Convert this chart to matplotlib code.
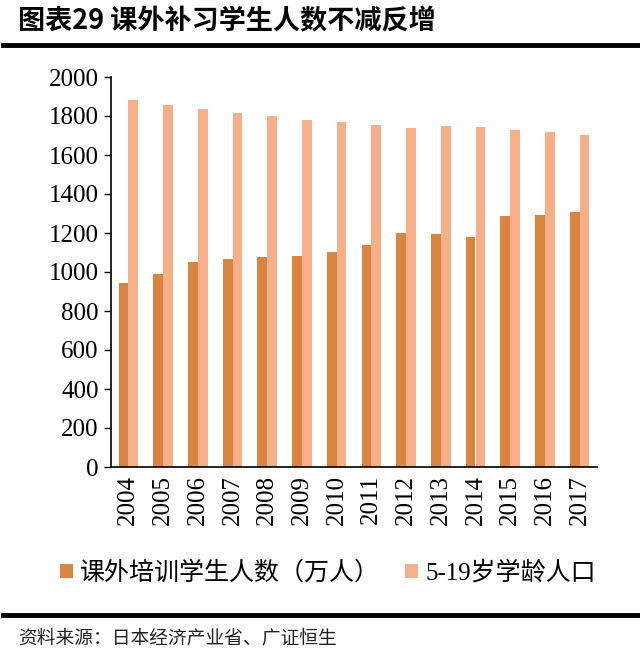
import matplotlib

matplotlib.use("Agg")
import matplotlib.pyplot as plt
import numpy as np
from matplotlib.lines import Line2D

plt.rcParams["font.family"] = ["Liberation Serif", "Noto Sans CJK SC", "DejaVu Sans"]

YEARS = ["2004", "2005", "2006", "2007", "2008", "2009", "2010",
         "2011", "2012", "2013", "2014", "2015", "2016", "2017"]
# 课外培训学生人数（万人）
TUTORING = [945, 988, 1051, 1065, 1077, 1082, 1103,
            1140, 1202, 1197, 1180, 1286, 1294, 1308]
# 5-19岁学龄人口
POPULATION = [1880, 1854, 1834, 1817, 1798, 1781, 1769,
              1756, 1740, 1747, 1744, 1730, 1720, 1705]

DARK = "#D9843F"
LIGHT = "#F5B08A"
CJK = ["Noto Sans CJK SC", "DejaVu Sans"]

fig = plt.figure(figsize=(6.4, 6.61), dpi=100)
ax = fig.add_axes([111 / 640, 1 - 467 / 661, (597 - 111) / 640, (467 - 77) / 661])

x = np.arange(len(YEARS))
width = 0.28
ax.bar(x - width / 2, TUTORING, width, color=DARK, label="课外培训学生人数（万人）")
ax.bar(x + width / 2, POPULATION, width, color=LIGHT, label="5-19岁学龄人口")

ax.set_xlim(-0.5, len(YEARS) - 0.5)
ax.set_ylim(0, 2000)
ax.set_yticks(range(0, 2001, 200))
ax.set_xticks(x)
ax.set_xticklabels(YEARS, rotation=90)
ax.tick_params(axis="y", labelsize=18, direction="out", length=5, width=1, pad=4)
ax.tick_params(axis="x", labelsize=18, length=0, pad=6)
ax.spines[["top", "right"]].set_visible(False)
ax.spines["left"].set_linewidth(1.2)
ax.spines["bottom"].set_linewidth(1.2)

leg = fig.legend(loc="center", bbox_to_anchor=(328 / 640, 1 - 573 / 661), ncol=2,
                 frameon=False, handlelength=0.5, handleheight=0.5,
                 handletextpad=0.3, columnspacing=1.0,
                 prop={"family": ["Liberation Serif", "Noto Sans CJK SC"], "size": 18})

# 标题与分隔线
fig.text(18 / 640, 1 - 21 / 661, "图表29 课外补习学生人数不减反增", fontsize=19.5,
         fontweight="bold", family=CJK, va="center", ha="left")
fig.add_artist(Line2D([3 / 640, 1], [1 - 45 / 661] * 2, color="black", lw=3.5))
fig.add_artist(Line2D([3 / 640, 1], [1 - 615 / 661] * 2, color="black", lw=3.5))
fig.text(18 / 640, 1 - 638 / 661, "资料来源：日本经济产业省、广证恒生", fontsize=13.5,
         family=CJK, va="center", ha="left", color="#222222")

fig.savefig("out.png", dpi=100)
